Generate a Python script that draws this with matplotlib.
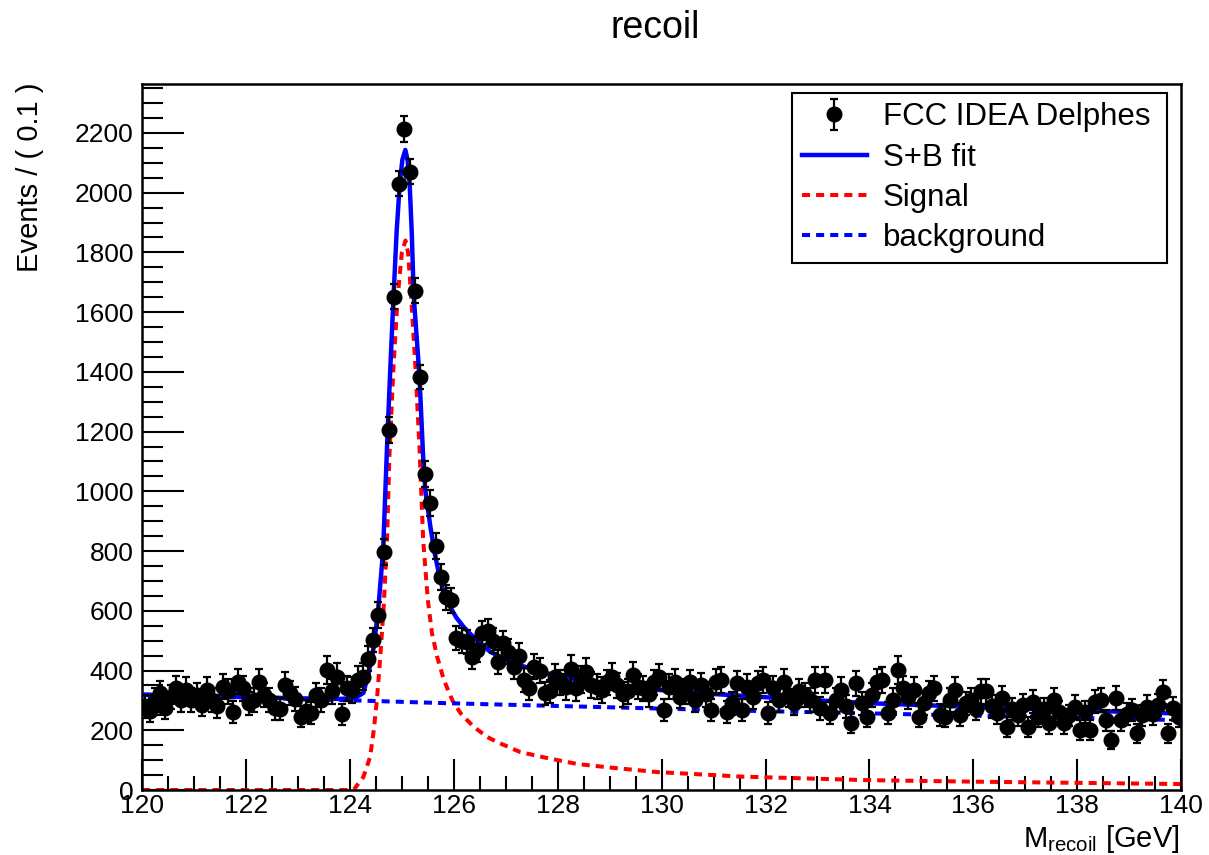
import numpy as np
import matplotlib.pyplot as plt
from matplotlib.ticker import MultipleLocator

plt.rcParams['font.family'] = ['Liberation Sans', 'DejaVu Sans']
plt.rcParams['mathtext.fontset'] = 'custom'
plt.rcParams['mathtext.rm'] = 'Liberation Sans'

# histogram: 200 bins of 0.1 GeV between 120 and 140
x_lo, x_hi, bin_width = 120.0, 140.0, 0.1
counts = [
    279, 265, 300, 325, 275, 310, 340, 300, 335, 300,
    318, 285, 335, 300, 280, 346, 330, 261, 363, 341,
    290, 300, 363, 318, 300, 274, 270, 352, 324, 305,
    246, 265, 257, 318, 300, 402, 330, 380, 253, 340,
    335, 370, 380, 440, 502, 586, 797, 1206, 1651, 2030,
    2214, 2070, 1671, 1383, 1058, 961, 817, 713, 646, 636,
    509, 500, 495, 445, 470, 525, 531, 500, 430, 491,
    463, 413, 450, 368, 340, 413, 400, 324, 330, 380,
    360, 345, 405, 340, 370, 396, 352, 346, 335, 360,
    380, 350, 320, 330, 385, 346, 340, 320, 360, 378,
    268, 346, 363, 313, 330, 360, 300, 350, 320, 268,
    363, 368, 262, 290, 357, 268, 346, 310, 357, 368,
    257, 340, 300, 363, 318, 290, 330, 318, 300, 368,
    274, 368, 257, 300, 335, 280, 225, 357, 290, 246,
    318, 363, 368, 257, 300, 402, 340, 310, 335, 246,
    290, 324, 340, 251, 246, 300, 335, 251, 290, 301,
    270, 330, 330, 280, 257, 307, 212, 270, 251, 285,
    212, 296, 246, 270, 223, 301, 260, 223, 250, 279,
    201, 260, 201, 296, 301, 234, 167, 307, 234, 255,
    268, 190, 250, 279, 255, 285, 329, 190, 274, 246,
]
# weighted errors
errors = [
    38, 37, 40, 41, 38, 40, 42, 40, 42, 40,
    41, 38, 42, 40, 38, 42, 41, 37, 43, 42,
    39, 40, 43, 41, 40, 38, 37, 43, 41, 40,
    36, 37, 37, 41, 40, 46, 41, 44, 36, 42,
    42, 44, 44, 43, 41, 42, 43, 43, 42, 42,
    44, 42, 42, 41, 42, 42, 42, 43, 42, 42,
    41, 41, 41, 40, 41, 42, 42, 41, 40, 41,
    41, 40, 41, 40, 40, 41, 41, 39, 39, 41,
    43, 42, 46, 42, 44, 45, 43, 42, 42, 43,
    44, 43, 41, 41, 45, 42, 42, 41, 43, 44,
    37, 42, 43, 40, 41, 43, 40, 43, 41, 37,
    43, 44, 37, 39, 43, 37, 42, 40, 43, 44,
    37, 42, 40, 43, 41, 39, 41, 41, 40, 44,
    38, 44, 37, 40, 42, 38, 34, 43, 39, 36,
    41, 43, 44, 37, 40, 46, 42, 40, 42, 36,
    39, 41, 42, 36, 36, 40, 42, 36, 39, 40,
    37, 41, 41, 38, 37, 40, 33, 37, 36, 38,
    33, 39, 36, 37, 34, 40, 37, 34, 36, 38,
    32, 37, 32, 39, 40, 35, 30, 40, 35, 36,
    37, 31, 36, 38, 36, 38, 41, 31, 38, 36,
]

# fit curves
sb_x = [120.0, 121.0, 122.0, 123.0, 123.8, 124.1, 124.26, 124.36, 124.46, 124.55,
        124.64, 124.72, 124.78, 124.84, 124.90, 124.96, 125.01, 125.067, 125.11, 125.15,
        125.19, 125.23, 125.34, 125.41, 125.45, 125.55, 125.63, 125.71, 125.8, 125.93,
        126.05, 126.19, 126.32, 126.45, 126.7, 126.95, 127.2, 127.67, 128.1, 128.63,
        129.6, 130.56, 131.52, 132.8, 134.09, 136.66, 140.0]
sb_y = [320, 315, 311, 307, 305, 308, 325, 392, 479, 613,
        804, 1172, 1420, 1651, 1870, 2030, 2110, 2143, 2110, 2030,
        1870, 1651, 1383, 1115, 1005, 881, 795, 727, 665, 613,
        577, 546, 522, 502, 463, 441, 422, 396, 378, 363,
        340, 326, 316, 302, 290, 274, 256]

sig_x = [120.0, 124.07, 124.26, 124.39, 124.46, 124.52, 124.59, 124.65, 124.715, 124.76,
         124.84, 124.92, 125.0, 125.07, 125.12, 125.18, 125.26, 125.34, 125.41, 125.5,
         125.58, 125.68, 125.81, 125.97, 126.13, 126.38, 126.64, 126.83, 127.28, 127.8,
         128.38, 129.08, 129.92, 131.0, 131.52, 133.96, 136.0, 140.0]
sig_y = [0, 0, 44, 111, 201, 301, 459, 613, 837, 1115,
         1420, 1651, 1800, 1840, 1800, 1651, 1420, 1144, 837, 636,
         525, 446, 368, 301, 257, 212, 178, 161, 127, 107,
         87, 74, 60, 50, 45, 33, 28, 20]

bkg_x = [120.0, 124.1, 125.8, 131.5, 140.0]
bkg_y = [318, 300, 291, 266, 234]

counts = np.array(counts, dtype=float)
edges = np.arange(len(counts) + 1) * bin_width + x_lo
centers = 0.5 * (edges[:-1] + edges[1:])

fig = plt.figure(figsize=(12.09, 8.55), dpi=100)
ax = fig.add_axes([0.1175, 0.076, 0.8595, 0.8258])

dash = (0, (2.0, 1.5))
ax.plot(sig_x, sig_y, color='#ff0000', lw=2.9, ls=dash, label='Signal', zorder=2)
ax.plot(bkg_x, bkg_y, color='#0000ff', lw=2.9, ls=dash, label='background', zorder=2)
ax.plot(sb_x, sb_y, color='#0000ff', lw=3.2, label='S+B fit', zorder=3)
ax.errorbar(centers, counts, yerr=errors, fmt='o', color='black', ms=10.5,
            elinewidth=1.6, capsize=3.0, capthick=1.6, label='FCC IDEA Delphes', zorder=4)

ax.set_xlim(x_lo, x_hi)
ax.set_ylim(0, 2364)
ax.xaxis.set_major_locator(MultipleLocator(2))
ax.xaxis.set_minor_locator(MultipleLocator(0.5))
ax.yaxis.set_major_locator(MultipleLocator(200))
ax.yaxis.set_minor_locator(MultipleLocator(50))
ax.tick_params(axis='x', which='major', direction='in', length=22, width=1.5, labelsize=19, pad=3)
ax.tick_params(axis='x', which='minor', direction='in', length=10, width=1.5)
ax.tick_params(axis='y', which='major', direction='in', length=30, width=1.5, labelsize=19, pad=6)
ax.tick_params(axis='y', which='minor', direction='in', length=15, width=1.5)
for s in ax.spines.values():
    s.set_linewidth(1.8)

fig.text(0.5418, 0.967, 'recoil', ha='center', va='center', fontsize=27)
fig.text(0.976, 0.0094, r'M$_{\mathrm{recoil}}$ [GeV]', ha='right', va='baseline', fontsize=21)
fig.text(0.025, 0.904, 'Events / ( 0.1 )', ha='center', va='top', rotation=90, fontsize=21)

handles, labels = ax.get_legend_handles_labels()
order = [3, 2, 0, 1]
leg = ax.legend([handles[i] for i in order], [labels[i] for i in order],
                loc='upper left', bbox_to_anchor=(0.6256, 0.7507, 0.361, 0.2365),
                mode='expand', fontsize=22.5, frameon=True, fancybox=False,
                edgecolor='black', framealpha=1, borderpad=0.3, labelspacing=0.33,
                handlelength=2.1, handletextpad=0.5, borderaxespad=0)
leg.get_frame().set_linewidth(1.5)

plt.savefig('out.png', dpi=100)
